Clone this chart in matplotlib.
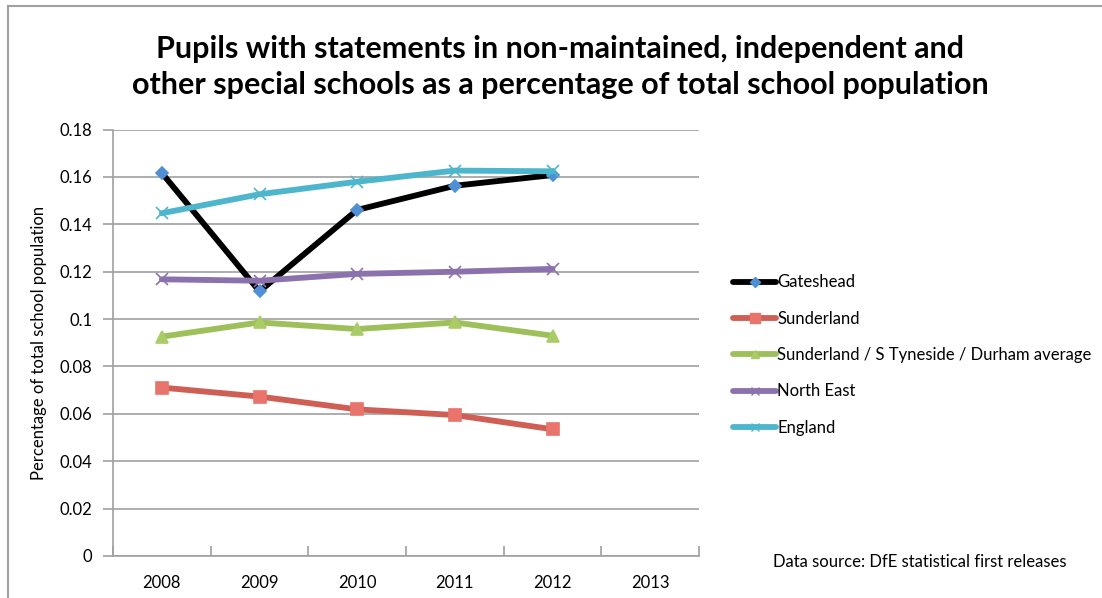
import matplotlib
matplotlib.use("Agg")
import matplotlib.pyplot as plt
from matplotlib.lines import Line2D

plt.rcParams['font.family'] = ['Lato', 'DejaVu Sans']

years = ["2008", "2009", "2010", "2011", "2012", "2013"]
gateshead = [0.1617, 0.1117, 0.1461, 0.1563, 0.1608]
sunderland = [0.0711, 0.0673, 0.0619, 0.0595, 0.0535]
stdurham_avg = [0.0926, 0.0986, 0.0958, 0.0986, 0.0930]
north_east = [0.1168, 0.1162, 0.1191, 0.1200, 0.1212]
england = [0.1447, 0.1527, 0.1580, 0.1627, 0.1624]

series = [
    ("Gateshead", gateshead, "#000000", "D", "#4f8fd6", 6),
    ("Sunderland", sunderland, "#cf5e55", "s", "#e8746b", 9),
    ("Sunderland / S Tyneside / Durham average", stdurham_avg, "#9dc05b", "^", "#a9cc66", 8),
    ("North East", north_east, "#8b72ad", "x", "#8b72ad", 8),
    ("England", england, "#4db6cd", "x", "#4db6cd", 8),
]

fig = plt.figure(figsize=(11.02, 5.98), dpi=100)
ax = fig.add_axes([113 / 1102, 42 / 598, 586 / 1102, 426.4 / 598])

grid_col = "#a0a0a0"
handles = []
for name, vals, col, mk, mcol, ms in series:
    xs = [i + 0.5 for i in range(len(vals))]
    ax.plot(xs, vals, color=col, lw=4.2, marker=mk, markersize=ms,
            markerfacecolor=mcol, markeredgecolor=mcol, markeredgewidth=1.2,
            solid_capstyle="round", solid_joinstyle="round", zorder=3)
    handles.append(Line2D([0], [0], color=col, lw=4.2, marker=mk, markersize=ms * 0.8,
                          markerfacecolor=mcol, markeredgecolor=mcol,
                          solid_capstyle="round"))

ax.set_xlim(0, len(years))
ax.set_ylim(0, 0.18)
ax.set_yticks([i * 0.02 for i in range(10)])
ax.set_yticklabels(["0", "0.02", "0.04", "0.06", "0.08", "0.1", "0.12", "0.14", "0.16", "0.18"])
ax.yaxis.grid(True, color=grid_col, lw=1.2)
ax.set_axisbelow(True)

ax.set_xticks(range(len(years) + 1))
ax.set_xticklabels([])
ax.set_xticks([i + 0.5 for i in range(len(years))], minor=True)
ax.set_xticklabels(years, minor=True)
ax.tick_params(axis="x", which="minor", length=0, pad=14, labelsize=12)
ax.tick_params(axis="x", which="major", length=7, direction="in", color=grid_col, width=1.2)
ax.tick_params(axis="y", length=7, direction="out", color=grid_col, width=1.2,
               labelsize=12, pad=8)

for s in ["top", "right"]:
    ax.spines[s].set_visible(False)
for s in ["left", "bottom"]:
    ax.spines[s].set_color(grid_col)
    ax.spines[s].set_linewidth(1.2)

ax.set_ylabel("Percentage of total school population", fontsize=12, labelpad=9)

fig.text(560 / 1102, 1 - 67 / 598,
         "Pupils with statements in non-maintained, independent and\n"
         "other special schools as a percentage of total school population",
         ha="center", va="center", fontsize=22, fontweight="bold", linespacing=1.35)

fig.legend(handles, [s[0] for s in series], loc="center left",
           bbox_to_anchor=(718 / 1102, 1 - 355 / 598), frameon=False,
           fontsize=12, handlelength=2.6, handletextpad=0.05, labelspacing=1.22)

fig.text(773 / 1102, 1 - 562 / 598, "Data source: DfE statistical first releases",
         ha="left", va="center", fontsize=12)

# chart frame (left and top edges)
fig.add_artist(Line2D([8 / 1102, 8 / 1102], [0, 1 - 6 / 598],
                      transform=fig.transFigure, color=grid_col, lw=1.5))
fig.add_artist(Line2D([8 / 1102, 1], [1 - 6 / 598, 1 - 6 / 598],
                      transform=fig.transFigure, color=grid_col, lw=1.5))

fig.savefig("out.png", dpi=100)
